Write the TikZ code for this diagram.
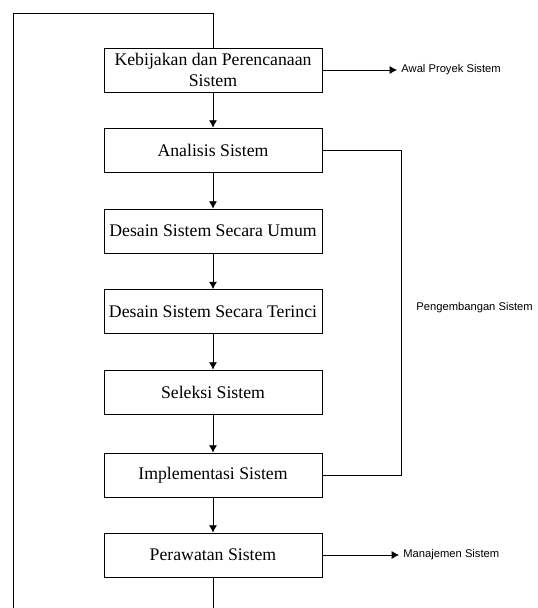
\documentclass[tikz,border=0pt]{standalone}
\usepackage{fontspec}
\setmainfont{Liberation Serif}
\newfontfamily\labelfont{Liberation Sans}
\usetikzlibrary{positioning,arrows.meta}
\tikzset{
  tahap/.style={draw,line width=0.6pt,minimum width=163.5pt,minimum height=33pt,
    inner sep=1pt,align=center,font=\fontsize{13.3}{15.5}\selectfont},
  ket/.style={anchor=west,inner sep=3pt,font=\labelfont\fontsize{8.4}{10}\selectfont},
}
\begin{document}
\begin{tikzpicture}[>={Latex[length=5.5pt,width=6pt]},x=0.75pt,y=-0.75pt,line width=0.6pt]
\useasboundingbox (0,0) rectangle (537,608);
% tahapan siklus
\node[tahap](kebijakan) at (213,70){Kebijakan dan Perencanaan\\Sistem};
\node[tahap](analisis) at (213,150){Analisis Sistem};
\node[tahap](umum) at (213,231){Desain Sistem Secara Umum};
\node[tahap](terinci) at (213,311.5){Desain Sistem Secara Terinci};
\node[tahap](seleksi) at (213,392){Seleksi Sistem};
\node[tahap](implementasi) at (213,475){Implementasi Sistem};
\node[tahap](perawatan) at (213,555){Perawatan Sistem};
% keterangan
\node[ket](awal) at (397,70){Awal Proyek Sistem};
\node[ket](pengembangan) at (412,308){Pengembangan Sistem};
\node[ket](manajemen) at (399,555){Manajemen Sistem};
\coordinate (kanan) at (401,150);
\coordinate (kiriatas) at (13,13);
\coordinate (kiribawah) at (13,608);
\coordinate (bawah) at (213,608);

\draw[->](kebijakan)--(analisis);
\draw[->](analisis)--(umum);
\draw[->](umum)--(terinci);
\draw[->](terinci)--(seleksi);
\draw[->](seleksi)--(implementasi);
\draw[->](implementasi)--(perawatan);
\draw[->](kebijakan)--(awal);
\draw[->](perawatan)--(manajemen);
\draw(analisis)--(kanan)|-(implementasi);
\draw(perawatan)--(bawah);
\draw(kiribawah)--(kiriatas)-|(kebijakan);
\end{tikzpicture}
\end{document}
